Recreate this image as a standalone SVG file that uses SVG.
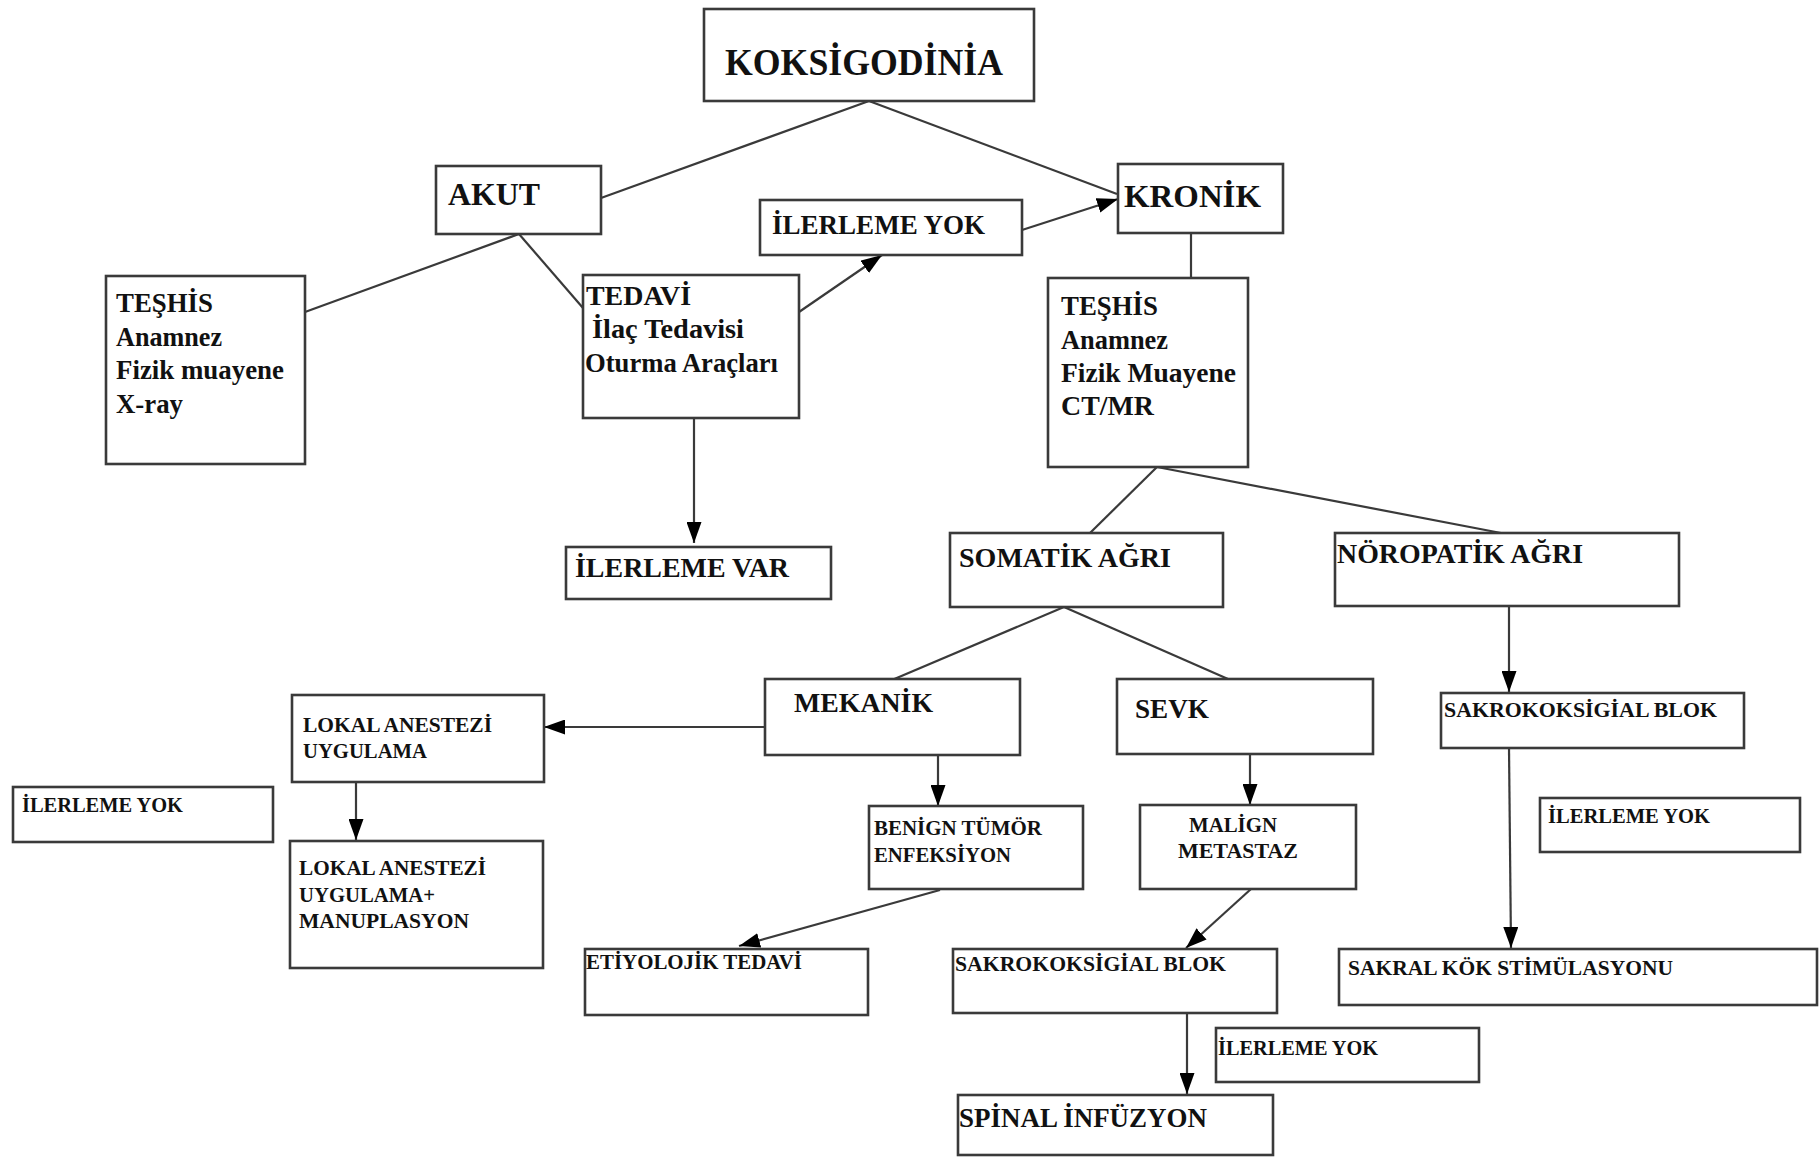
<svg xmlns="http://www.w3.org/2000/svg" width="1820" height="1157" viewBox="0 0 1820 1157">
<style>
.b{fill:#fff;stroke:#3a3a3a;stroke-width:2.6}
.t{font-family:"Liberation Serif","Times New Roman",serif;font-weight:bold;fill:#111}
.s36{font-size:38px}.s30{font-size:31px}.s27{font-size:28px}.s26{font-size:27px}.s21{font-size:22px}
.c{stroke:#3a3a3a;stroke-width:2.2;fill:none}
</style>
<defs>
<marker id="arr" markerWidth="21" markerHeight="15" refX="21" refY="7.5" orient="auto" markerUnits="userSpaceOnUse">
<path d="M0,0 L21,7.5 L0,15 z" fill="#000"/>
</marker>
</defs>
<rect width="1820" height="1157" fill="#fff"/>
<g id="connectors">
<line class="c" x1="869" y1="101" x2="601" y2="198"/>
<line class="c" x1="869" y1="101" x2="1117" y2="194"/>
<line class="c" x1="519" y1="234" x2="305" y2="312"/>
<line class="c" x1="519" y1="234" x2="583" y2="308"/>
<line class="c" x1="799" y1="312" x2="882" y2="255" marker-end="url(#arr)"/>
<line class="c" x1="1022" y1="230" x2="1118" y2="199" marker-end="url(#arr)"/>
<line class="c" x1="1191" y1="233" x2="1191" y2="278"/>
<line class="c" x1="694" y1="418" x2="694" y2="543" marker-end="url(#arr)"/>
<line class="c" x1="1157" y1="467" x2="1090" y2="533"/>
<line class="c" x1="1157" y1="467" x2="1501" y2="533"/>
<line class="c" x1="1064" y1="607" x2="892" y2="680"/>
<line class="c" x1="1064" y1="607" x2="1228" y2="679"/>
<line class="c" x1="765" y1="727" x2="544" y2="727" marker-end="url(#arr)"/>
<line class="c" x1="356" y1="782" x2="356" y2="840" marker-end="url(#arr)"/>
<line class="c" x1="938" y1="755" x2="938" y2="806" marker-end="url(#arr)"/>
<line class="c" x1="1250" y1="754" x2="1250" y2="805" marker-end="url(#arr)"/>
<line class="c" x1="1509" y1="606" x2="1509" y2="692" marker-end="url(#arr)"/>
<line class="c" x1="1509" y1="748" x2="1511" y2="948" marker-end="url(#arr)"/>
<line class="c" x1="940" y1="890" x2="739" y2="946" marker-end="url(#arr)"/>
<line class="c" x1="1251" y1="889" x2="1186" y2="948" marker-end="url(#arr)"/>
<line class="c" x1="1187" y1="1013" x2="1187" y2="1094" marker-end="url(#arr)"/>
</g>
<g id="n1"><rect class="b" x="704" y="9" width="330" height="92"/><text class="t s36" x="725" y="75" textLength="278" lengthAdjust="spacingAndGlyphs">KOKSİGODİNİA</text></g>
<g id="n2"><rect class="b" x="436" y="166" width="165" height="68"/><text class="t s30" x="448" y="205" textLength="92" lengthAdjust="spacingAndGlyphs">AKUT</text></g>
<g id="n3"><rect class="b" x="106" y="276" width="199" height="188"/>
<text class="t s26" x="116" y="312" textLength="97" lengthAdjust="spacingAndGlyphs">TEŞHİS</text>
<text class="t s26" x="116" y="346" textLength="106" lengthAdjust="spacingAndGlyphs">Anamnez</text>
<text class="t s26" x="116" y="379" textLength="168" lengthAdjust="spacingAndGlyphs">Fizik muayene</text>
<text class="t s26" x="116" y="413" textLength="67" lengthAdjust="spacingAndGlyphs">X-ray</text></g>
<g id="n4"><rect class="b" x="583" y="275" width="216" height="143"/>
<text class="t s26" x="586" y="305" textLength="105" lengthAdjust="spacingAndGlyphs">TEDAVİ</text>
<text class="t s26" x="592" y="338" textLength="152" lengthAdjust="spacingAndGlyphs">İlaç Tedavisi</text>
<text class="t s26" x="585" y="372" textLength="193" lengthAdjust="spacingAndGlyphs">Oturma Araçları</text></g>
<g id="n5"><rect class="b" x="760" y="200" width="262" height="55"/><text class="t s26" x="772" y="234" textLength="213" lengthAdjust="spacingAndGlyphs">İLERLEME YOK</text></g>
<g id="n6"><rect class="b" x="1118" y="164" width="165" height="69"/><text class="t s30" x="1124" y="207" textLength="137" lengthAdjust="spacingAndGlyphs">KRONİK</text></g>
<g id="n7"><rect class="b" x="1048" y="278" width="200" height="189"/>
<text class="t s26" x="1061" y="315" textLength="97" lengthAdjust="spacingAndGlyphs">TEŞHİS</text>
<text class="t s26" x="1061" y="349" textLength="107" lengthAdjust="spacingAndGlyphs">Anamnez</text>
<text class="t s26" x="1061" y="382" textLength="175" lengthAdjust="spacingAndGlyphs">Fizik Muayene</text>
<text class="t s26" x="1061" y="415" textLength="93" lengthAdjust="spacingAndGlyphs">CT/MR</text></g>
<g id="n8"><rect class="b" x="566" y="547" width="265" height="52"/><text class="t s26" x="575" y="577" textLength="214" lengthAdjust="spacingAndGlyphs">İLERLEME VAR</text></g>
<g id="n9"><rect class="b" x="292" y="695" width="252" height="87"/>
<text class="t s21" x="303" y="732" textLength="189" lengthAdjust="spacingAndGlyphs">LOKAL ANESTEZİ</text>
<text class="t s21" x="303" y="758" textLength="124" lengthAdjust="spacingAndGlyphs">UYGULAMA</text></g>
<g id="n10"><rect class="b" x="13" y="787" width="260" height="55"/><text class="t s21" x="22" y="812" textLength="161" lengthAdjust="spacingAndGlyphs">İLERLEME YOK</text></g>
<g id="n11"><rect class="b" x="290" y="841" width="253" height="127"/>
<text class="t s21" x="299" y="875" textLength="187" lengthAdjust="spacingAndGlyphs">LOKAL ANESTEZİ</text>
<text class="t s21" x="299" y="902" textLength="136" lengthAdjust="spacingAndGlyphs">UYGULAMA+</text>
<text class="t s21" x="299" y="928" textLength="170" lengthAdjust="spacingAndGlyphs">MANUPLASYON</text></g>
<g id="n12"><rect class="b" x="765" y="679" width="255" height="76"/><text class="t s27" x="794" y="712" textLength="139" lengthAdjust="spacingAndGlyphs">MEKANİK</text></g>
<g id="n13"><rect class="b" x="1117" y="679" width="256" height="75"/><text class="t s27" x="1135" y="718" textLength="74" lengthAdjust="spacingAndGlyphs">SEVK</text></g>
<g id="n14"><rect class="b" x="950" y="533" width="273" height="74"/><text class="t s27" x="959" y="567" textLength="212" lengthAdjust="spacingAndGlyphs">SOMATİK AĞRI</text></g>
<g id="n15"><rect class="b" x="1335" y="533" width="344" height="73"/><text class="t s27" x="1337" y="563" textLength="246" lengthAdjust="spacingAndGlyphs">NÖROPATİK AĞRI</text></g>
<g id="n16"><rect class="b" x="1441" y="693" width="303" height="55"/><text class="t s21" x="1444" y="717" textLength="273" lengthAdjust="spacingAndGlyphs">SAKROKOKSİGİAL BLOK</text></g>
<g id="n17"><rect class="b" x="1540" y="798" width="260" height="54"/><text class="t s21" x="1548" y="823" textLength="162" lengthAdjust="spacingAndGlyphs">İLERLEME YOK</text></g>
<g id="n18"><rect class="b" x="1140" y="805" width="216" height="84"/>
<text class="t s21" x="1189" y="832" textLength="88" lengthAdjust="spacingAndGlyphs">MALİGN</text>
<text class="t s21" x="1178" y="858" textLength="120" lengthAdjust="spacingAndGlyphs">METASTAZ</text></g>
<g id="n19"><rect class="b" x="869" y="806" width="214" height="83"/>
<text class="t s21" x="874" y="835" textLength="168" lengthAdjust="spacingAndGlyphs">BENİGN TÜMÖR</text>
<text class="t s21" x="874" y="862" textLength="137" lengthAdjust="spacingAndGlyphs">ENFEKSİYON</text></g>
<g id="n20"><rect class="b" x="585" y="949" width="283" height="66"/><text class="t s21" x="586" y="969" textLength="216" lengthAdjust="spacingAndGlyphs">ETİYOLOJİK TEDAVİ</text></g>
<g id="n21"><rect class="b" x="953" y="949" width="324" height="64"/><text class="t s21" x="955" y="971" textLength="271" lengthAdjust="spacingAndGlyphs">SAKROKOKSİGİAL BLOK</text></g>
<g id="n22"><rect class="b" x="1339" y="949" width="478" height="56"/><text class="t s21" x="1348" y="975" textLength="325" lengthAdjust="spacingAndGlyphs">SAKRAL KÖK STİMÜLASYONU</text></g>
<g id="n23"><rect class="b" x="1216" y="1028" width="263" height="54"/><text class="t s21" x="1218" y="1055" textLength="160" lengthAdjust="spacingAndGlyphs">İLERLEME YOK</text></g>
<g id="n24"><rect class="b" x="958" y="1095" width="315" height="60"/><text class="t s27" x="959" y="1127" textLength="248" lengthAdjust="spacingAndGlyphs">SPİNAL İNFÜZYON</text></g>
</svg>
